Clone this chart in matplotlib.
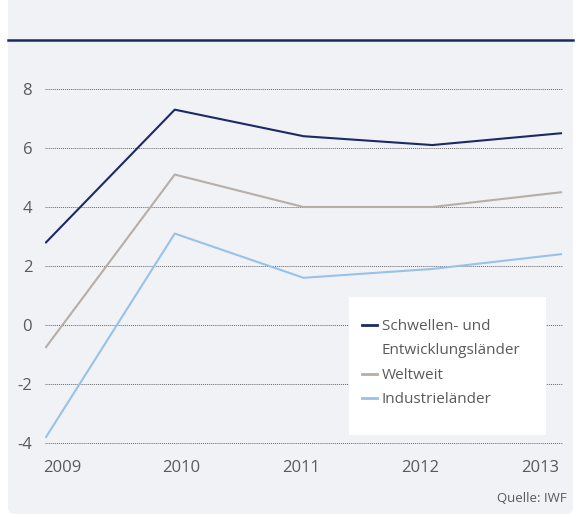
import matplotlib
matplotlib.use("Agg")
import matplotlib.pyplot as plt
from matplotlib.patches import FancyBboxPatch, Rectangle
from matplotlib.lines import Line2D
import numpy as np

years = ["2009", "2010", "2011", "2012", "2013"]
schwellen = [2.8, 7.3, 6.4, 6.1, 6.5]
weltweit = [-0.75, 5.1, 4.0, 4.0, 4.5]
industrie = [-3.8, 3.1, 1.6, 1.9, 2.4]
yticks = [-4, -2, 0, 2, 4, 6, 8]
labels = ["Schwellen- und", "Entwicklungsländer", "Weltweit", "Industrieländer"]

c_navy = "#1b2a66"
c_grey = "#b6aea7"
c_blue = "#98c2ea"
c_text = "#5a5a5a"
bg = "#f1f2f6"

plt.rcParams['font.family'] = ['Open Sans', 'DejaVu Sans']

W, H = 579, 517
fig = plt.figure(figsize=(W / 100, H / 100), dpi=100)
fig.patch.set_facecolor("white")

# background panel
panel = FancyBboxPatch((8 / W, 3 / H), (573 - 8) / W, (530 - 3) / H,
                       boxstyle="round,pad=0,rounding_size=0.012",
                       transform=fig.transFigure, facecolor=bg, edgecolor="none",
                       zorder=-10)
fig.add_artist(panel)
fig.add_artist(Line2D([8 / W, 573 / W], [1 - 40 / H, 1 - 40 / H],
                      color=c_navy, linewidth=1.8, transform=fig.transFigure,
                      zorder=-5))

x = np.arange(len(years))
ymin, ymax = -4.1, 8.1
xmin, xmax = -0.01, 4.015
ppu_y = 29.5
ppu_x = 128.75
top_px = 89 - (ymax - 8) * ppu_y
bot_px = 443 + (-4 - ymin) * ppu_y
left_px = 46 + xmin * ppu_x
width_px = (xmax - xmin) * ppu_x
ax = fig.add_axes([left_px / W, 1 - bot_px / H, width_px / W, (bot_px - top_px) / H])
ax.set_zorder(1)
ax.set_facecolor("none")
ax.set_xlim(xmin, xmax)
ax.set_ylim(ymin, ymax)
for s in ax.spines.values():
    s.set_visible(False)

ax.set_yticks(yticks)
ax.set_yticklabels([str(v) for v in yticks])
ax.yaxis.grid(True, linestyle=(0, (1, 1)), color="#666666", linewidth=0.7)
ax.set_axisbelow(True)
ax.tick_params(axis="both", length=0, labelsize=12, labelcolor=c_text)
ax.tick_params(axis="y", pad=9)
ax.tick_params(axis="x", pad=10)

tickpos = np.linspace(0.124, 3.837, len(years))
ax.set_xticks(tickpos)
ax.set_xticklabels(years)

ax.plot(x, schwellen, color=c_navy, linewidth=1.5, zorder=3)
ax.plot(x, weltweit, color=c_grey, linewidth=1.5, zorder=3)
ax.plot(x, industrie, color=c_blue, linewidth=1.5, zorder=3)

# legend box
bx0 = (349 - left_px) / width_px
bx1 = (546 - left_px) / width_px
by0 = (bot_px - 435) / (bot_px - top_px)
by1 = (bot_px - 297) / (bot_px - top_px)
ax.add_patch(Rectangle((bx0, by0), bx1 - bx0, by1 - by0, transform=ax.transAxes,
                       facecolor="white", edgecolor="none", zorder=4))
handles = [Line2D([], [], color=c_navy, linewidth=2),
           Line2D([], [], color="none", linewidth=2),
           Line2D([], [], color=c_grey, linewidth=2),
           Line2D([], [], color=c_blue, linewidth=2)]
leg = ax.legend(handles, labels, loc="upper left",
                bbox_to_anchor=((362 - left_px) / width_px, (bot_px - 319) / (bot_px - top_px)),
                frameon=False, fontsize=11, handlelength=1.0, handletextpad=0.3,
                labelspacing=0.62, borderaxespad=0, borderpad=0)
leg.set_zorder(5)
for t in leg.get_texts():
    t.set_color(c_text)

fig.text(567 / W, 1 - 498 / H, "Quelle: IWF", ha="right", va="center",
         fontsize=9.5, color=c_text)

fig.savefig("out.png", dpi=100)
